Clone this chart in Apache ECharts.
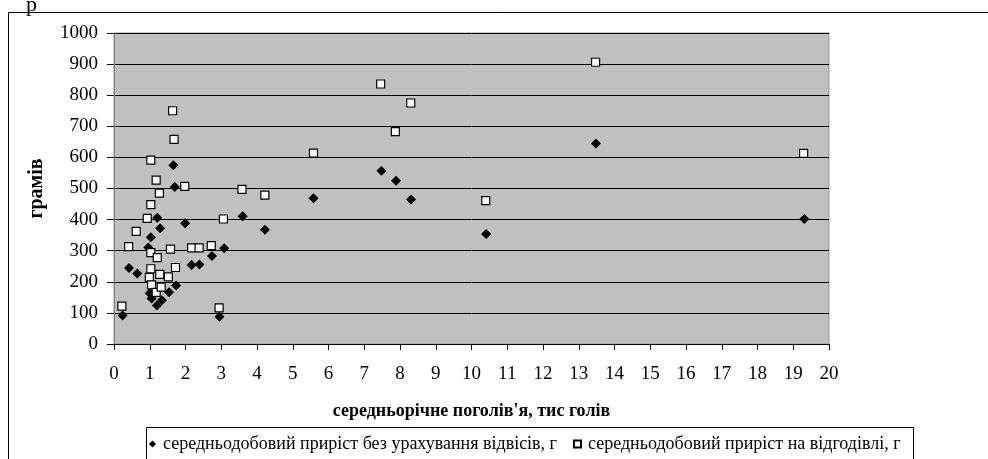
<!DOCTYPE html>
<html><head><meta charset="utf-8">
<script src="https://cdn.jsdelivr.net/npm/echarts@6/dist/echarts.min.js"></script>
<style>html,body{margin:0;padding:0;background:#fff}#c{width:988px;height:459px}</style>
</head><body><div id="c"></div>
<script>
const seriesNames = ['середньодобовий приріст без урахування відвісів, г', 'середньодобовий приріст на відгодівлі, г'];
const xAxisTitle = 'середньорічне поголів\'я, тис голів';
const yAxisTitle = 'грамів';

// series 1: diamonds (livestock, thousand heads / gain, g)
const herdA = [0.24, 0.42, 0.65, 0.96, 1.0, 1.03, 1.05, 1.2, 1.21, 1.29, 1.34, 1.54, 1.66, 1.70, 1.74, 1.99, 2.17, 2.39, 2.74, 2.95, 3.08, 3.6, 4.22, 5.58, 7.48, 7.89, 8.31, 10.41, 13.48, 19.31];
const gainA = [92, 244, 227, 310, 163, 343, 146, 124, 406, 372, 141, 166, 575, 505, 188, 388, 254, 256, 283, 88, 308, 411, 367, 469, 557, 525, 465, 354, 645, 402];

// series 2: squares
const herdB = [0.22, 0.41, 0.62, 0.93, 0.99, 1.03, 1.03, 1.03, 1.03, 1.05, 1.18, 1.18, 1.21, 1.27, 1.28, 1.32, 1.52, 1.58, 1.64, 1.68, 1.72, 1.98, 2.17, 2.38, 2.72, 2.94, 3.06, 3.58, 4.22, 5.58, 7.46, 7.87, 8.3, 10.4, 13.47, 19.29];
const gainB = [122, 313, 362, 404, 214, 591, 448, 294, 242, 190, 527, 166, 278, 485, 224, 183, 216, 305, 750, 658, 246, 507, 309, 309, 316, 116, 402, 497, 479, 614, 836, 683, 775, 461, 906, 613];

const FONT = 'Liberation Serif';
const chart = echarts.init(document.getElementById('c'), null, {renderer: 'canvas'});
chart.setOption({
  animation: false,
  backgroundColor: '#fff',
  textStyle: {fontFamily: FONT, color: '#000'},
  grid: {left: 114, right: 159, top: 33, bottom: 115, show: true, backgroundColor: '#C0C0C0', borderColor: '#9a9a9a', borderWidth: 1},
  xAxis: {
    type: 'value', min: 0, max: 20, interval: 1,
    name: xAxisTitle, nameLocation: 'middle', nameGap: 58,
    nameTextStyle: {fontFamily: FONT, fontSize: 18, fontWeight: 'bold', color: '#000'},
    axisLine: {show: true, onZero: false, lineStyle: {color: '#000', width: 1}},
    axisTick: {show: true, length: 6, lineStyle: {color: '#000'}},
    axisLabel: {fontFamily: FONT, fontSize: 19, color: '#000', margin: 21},
    splitLine: {show: false}
  },
  yAxis: {
    type: 'value', min: 0, max: 1000, interval: 100,
    name: yAxisTitle, nameLocation: 'middle', nameGap: 67, nameRotate: 90,
    nameTextStyle: {fontFamily: FONT, fontSize: 20, fontWeight: 'bold', color: '#000'},
    axisLine: {show: true, lineStyle: {color: '#808080', width: 1}},
    axisTick: {show: true, length: 7, lineStyle: {color: '#000'}},
    axisLabel: {fontFamily: FONT, fontSize: 19, color: '#000', margin: 16, formatter: v => String(v)},
    splitLine: {show: true, lineStyle: {color: '#000', width: 1}}
  },
  legend: {
    left: 149, top: 435, padding: 0, itemGap: 16, itemWidth: 7, itemHeight: 7,
    textStyle: {fontFamily: FONT, fontSize: 18, color: '#000', padding: [0, 0, 0, 2]},
    data: seriesNames
  },
  graphic: [
    {type: 'rect', silent: true, z: -1, shape: {x: 8.5, y: 12.5, width: 1000, height: 500}, style: {fill: 'none', stroke: '#000', lineWidth: 1}},
    {type: 'rect', silent: true, shape: {x: 146.5, y: 427.5, width: 767, height: 60}, style: {fill: 'none', stroke: '#000', lineWidth: 1}},
    {type: 'text', silent: true, left: 26, top: -6, style: {text: 'р', font: '22px "Liberation Serif"', fill: '#000'}}
  ],
  series: [
    {name: seriesNames[0], type: 'scatter', symbol: 'diamond', symbolSize: 10,
     itemStyle: {color: '#000', opacity: 1}, data: herdA.map((v, i) => [v, gainA[i]])},
    {name: seriesNames[1], type: 'scatter', symbol: 'rect', symbolSize: 8,
     itemStyle: {color: '#fff', borderColor: '#000', borderWidth: 1.2, opacity: 1}, data: herdB.map((v, i) => [v, gainB[i]])}
  ]
});
</script></body></html>
